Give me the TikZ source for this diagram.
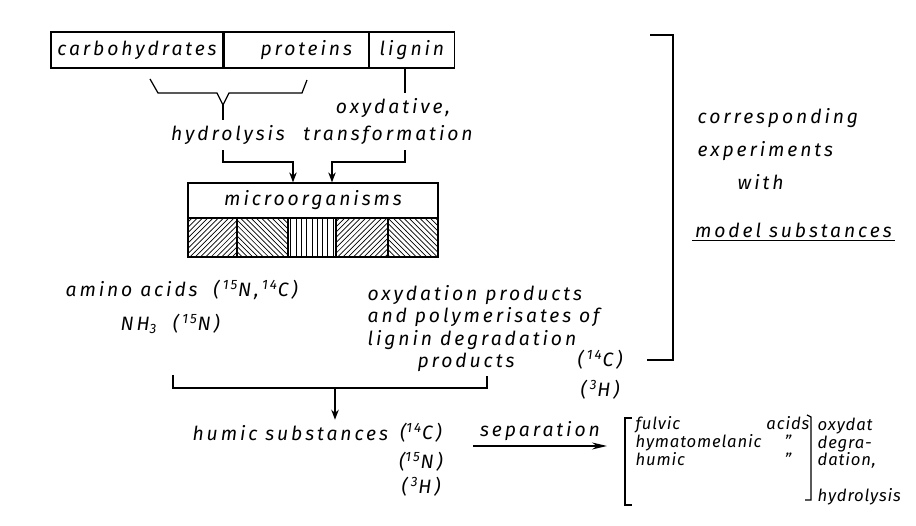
\documentclass[tikz,border=0pt]{standalone}
\usepackage{fontspec}
\setmainfont{Fira Sans}[LetterSpace=15]
\usetikzlibrary{positioning,patterns,arrows.meta}

\begin{document}
\begin{tikzpicture}[line width=0.7pt, >={Stealth[length=2mm,width=1.5mm]},
    font=\itshape\fontsize{11}{12.7}\selectfont,
    zelle/.style={draw, minimum height=7.2mm, inner sep=0pt},
    txt/.style={inner sep=1mm},
    eng/.style={font=\itshape\fontsize{9.5}{10.2}\selectfont\addfontfeature{LetterSpace=5}}]
    \useasboundingbox (0mm,0mm) rectangle (183.2mm,105.2mm);                                     % Rahmen
    \node[zelle, minimum width=34.4mm] (carb) at (27.4mm,95.2mm) {carbohydrates};                % Kasten oben
    \node[zelle, minimum width=28.8mm, right=0mm of carb] (prot) {\hspace*{4mm}proteins};
    \node[zelle, minimum width=17mm, right=0mm of prot] (lig) {lignin};
    \coordinate (v)  at (44.6mm,84.2mm);                                                          % Spitze
    \coordinate (lx) at (81mm,0mm);
    \coordinate (k1) at (58.6mm,72.8mm);
    \coordinate (k2) at (66.4mm,72.8mm);
    \draw (30mm,89.4mm) -- (31.6mm,86.6mm) -- (43.4mm,86.6mm) -- (v) -- (45.8mm,86.6mm) -- (60.4mm,86.6mm) -- (61.4mm,89.2mm); % Klammer
    \node[txt] (hyd)   at (45.6mm,78.2mm) {hydrolysis};
    \node[txt] (oxy)   at (78.6mm,83.6mm) {oxydative,};
    \node[txt] (trans) at (77.6mm,78.2mm) {transformation};
    \node[zelle, minimum width=50mm, minimum height=7mm] (mo) at (62.6mm,65.1mm) {microorganisms}; % Kasten Mitte
    \foreach \xa/\xb/\muster in {37.6/47.4/north east lines, 47.4/57.6/north west lines, 57.6/67.2/vertical lines, 67.2/77.6/north east lines, 77.6/87.6/north west lines}
        \draw[pattern=\muster] (\xa mm,53.8mm) rectangle (\xb mm,61.6mm);                        % Schraffur
    \draw (v) -- (v |- hyd.north);
    \draw[->] (v |- hyd.south) |- (k1) -- (k1 |- mo.north);                                       % Pfeil links
    \draw (lig.south -| lx) -- (lx |- oxy.north);
    \draw[->] (lx |- trans.south) |- (k2) -- (k2 |- mo.north);                                    % Pfeil rechts
    \node[txt, anchor=west] (amino) at (12mm,47.2mm) {amino acids \ (\,\textsuperscript{15}N,\,\textsuperscript{14}C)};
    \node[txt, anchor=west] (nh)    at (23mm,40.4mm) {NH\textsubscript{3} \ (\,\textsuperscript{15}N)};
    \node[txt, anchor=north west, align=left] (oxp) at (72.4mm,49.2mm) {oxydation products\\and polymerisates of\\lignin degradation\\\hspace*{10mm}products};
    \node[txt] (c14a) at (120mm,33.2mm) {(\,\textsuperscript{14}C)};
    \node[txt] (h3a)  at (120mm,27.2mm) {(\,\textsuperscript{3}H)};
    \draw (130mm,98.2mm) -- (134.6mm,98.2mm) -- (134.6mm,33.2mm) -- (129.4mm,33.2mm);           % Klammer rechts
    \node[txt, anchor=north west, align=left, font=\itshape\fontsize{11}{18.7}\selectfont] (korr) at (138.4mm,84.6mm) {corresponding\\experiments\\\hspace*{8mm}with};
    \node[inner sep=0.5mm, anchor=west] (model) at (138.4mm,59.2mm) {model substances};
    \draw[line width=0.5pt] (model.south west) -- (model.south east);                             % Unterstrich
    \draw (34.6mm,30.2mm) -- (34.6mm,27.6mm) -- (97.4mm,27.6mm) -- (97.4mm,30mm);                % Klammer unten
    \coordinate (kb) at (67mm,27.6mm);
    \node[txt, anchor=west] (humic) at (37.4mm,18.6mm) {humic substances};
    \draw[->] (kb) -- (kb |- humic.north);                                                        % Pfeil unten
    \node[txt] (c14b) at (84.2mm,18.6mm) {(\textsuperscript{14}C)};
    \node[txt] (n15b) at (84.2mm,12.8mm) {(\textsuperscript{15}N)};
    \node[txt] (h3b)  at (84.2mm,7.8mm)  {(\,\textsuperscript{3}H)};
    \coordinate (sa) at (94.6mm,16mm);
    \coordinate (se) at (121.4mm,16mm);
    \draw[-{Stealth[length=3mm,width=1.4mm]}] (sa) -- node[above, inner sep=1mm] (sep) {separation} (se); % Trennung
    \node[eng, anchor=north west, inner sep=0pt] (frak) at (127mm,22.1mm)
        {\begin{tabular}{@{}l@{\hspace{1mm}}c@{}}fulvic & acids\\hymatomelanic & "\\humic & "\end{tabular}};
    \draw (126.4mm,21.6mm) -- (125mm,21.6mm) -- (125mm,4.2mm) -- (126.4mm,4.2mm);                % Klammer
    \draw (161.4mm,22.2mm) -- (162.2mm,21.8mm) -- (162.2mm,5.2mm) -- (161mm,5.2mm);
    \node[eng, anchor=north west, inner sep=0pt, align=left] (rc) at (163.4mm,21.8mm)
        {oxydat\\degra-\\dation,\\[3.6mm]hydrolysis};
\end{tikzpicture}
\end{document}
